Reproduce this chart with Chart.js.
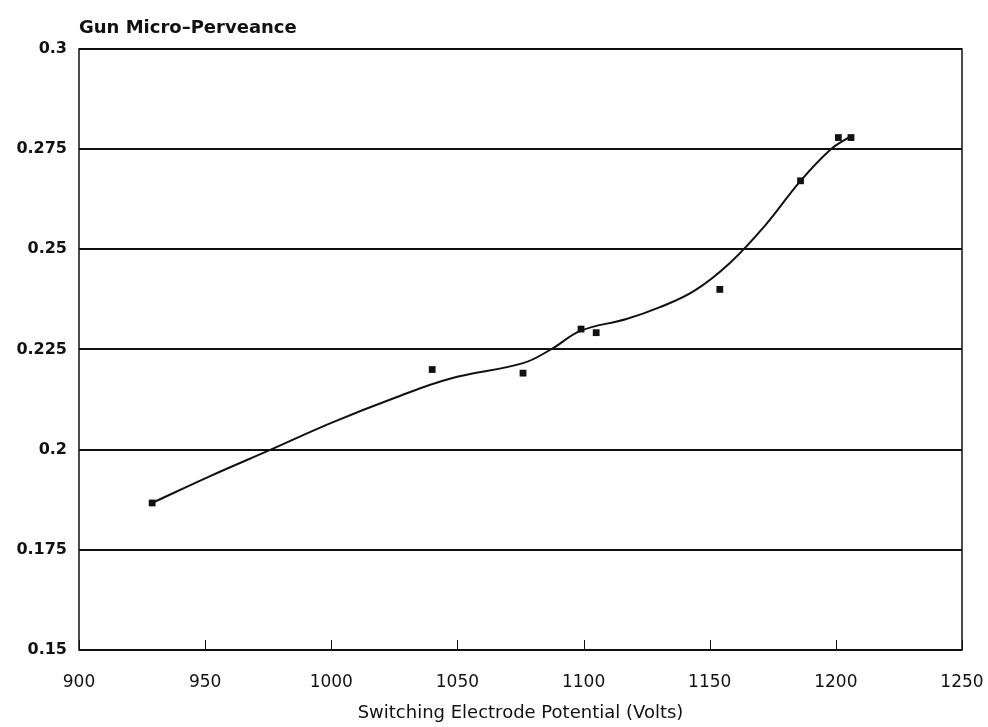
<!DOCTYPE html>
<html>
<head>
<meta charset="utf-8">
<script src="https://cdn.jsdelivr.net/npm/chart.js@4/dist/chart.umd.min.js"></script>
<style>
  html, body { margin: 0; padding: 0; background: #fff; }
  #wrap { width: 988px; height: 727px; }
</style>
</head>
<body>
<div id="wrap"><canvas id="perveanceChart" width="988" height="727"></canvas></div>
<script>
// measured points: electrode potential (V) vs micro-perveance
const voltage = [929, 1040, 1076, 1099, 1105, 1154, 1186, 1201, 1206];
const perveance = [0.1867, 0.2200, 0.2191, 0.2301, 0.2292, 0.2400, 0.2671, 0.2779, 0.2779];

// smoothed fit curve
const fitVoltage = [929, 952, 976, 1000, 1025, 1047, 1076, 1087, 1099, 1117, 1130, 1144, 1158, 1172, 1186, 1198, 1205];
const fitPerveance = [0.1867, 0.1934, 0.2000, 0.2067, 0.2129, 0.2177, 0.2216, 0.2250, 0.2297, 0.2326, 0.2355, 0.2397, 0.2466, 0.2560, 0.2671, 0.2750, 0.2779];

const xTicks = [900, 950, 1000, 1050, 1100, 1150, 1200, 1250];
const yTicks = [0.15, 0.175, 0.2, 0.225, 0.25, 0.275, 0.3];

const FONT = "'DejaVu Sans', sans-serif";

// frame, inner x ticks and the top-left caption
const framePlugin = {
  id: 'frame',
  afterDraw(chart) {
    const { ctx, chartArea: a, scales } = chart;
    ctx.save();
    ctx.strokeStyle = '#111';
    ctx.lineWidth = 1.5;
    ctx.strokeRect(a.left, a.top, a.right - a.left, a.bottom - a.top);
    ctx.lineWidth = 1;
    xTicks.forEach(v => {
      const px = Math.round(scales.x.getPixelForValue(v)) + 0.5;
      ctx.beginPath();
      ctx.moveTo(px, a.bottom);
      ctx.lineTo(px, a.bottom - 10);
      ctx.stroke();
    });
    ctx.fillStyle = '#111';
    ctx.font = 'bold 18px ' + FONT;
    ctx.textAlign = 'left';
    ctx.textBaseline = 'alphabetic';
    ctx.fillText('Gun Micro\u2013Perveance', a.left, a.top - 16);
    ctx.restore();
  }
};

new Chart(document.getElementById('perveanceChart').getContext('2d'), {
  type: 'scatter',
  data: {
    datasets: [
      {
        label: 'fit',
        type: 'line',
        data: fitVoltage.map((v, i) => ({ x: v, y: fitPerveance[i] })),
        borderColor: '#111',
        borderWidth: 2,
        pointRadius: 0,
        fill: false,
        tension: 0.4
      },
      {
        label: 'measured',
        data: voltage.map((v, i) => ({ x: v, y: perveance[i] })),
        pointStyle: 'rect',
        pointRadius: 4.8,
        backgroundColor: '#111',
        borderColor: '#111',
        borderWidth: 0
      }
    ]
  },
  options: {
    responsive: false,
    animation: false,
    layout: { padding: { top: 49, right: 26, left: 0, bottom: 0 } },
    plugins: {
      legend: { display: false },
      tooltip: { enabled: false }
    },
    scales: {
      x: {
        type: 'linear',
        min: 900,
        max: 1250,
        afterBuildTicks: s => { s.ticks = xTicks.map(v => ({ value: v })); },
        afterFit: s => { s.height = 77; s.paddingLeft = 0; s.paddingRight = 0; },
        grid: { display: false },
        border: { display: false },
        ticks: {
          padding: 14,
          color: '#111',
          font: { family: FONT, size: 17 },
          maxRotation: 0,
          callback: v => String(v)
        },
        title: {
          display: true,
          text: 'Switching Electrode Potential (Volts)',
          color: '#111',
          font: { family: FONT, size: 18 },
          padding: { top: 0, bottom: 3 }
        }
      },
      y: {
        type: 'linear',
        min: 0.15,
        max: 0.3,
        afterBuildTicks: s => { s.ticks = yTicks.map(v => ({ value: v })); },
        afterFit: s => { s.width = 79; },
        grid: {
          color: '#111',
          lineWidth: 2,
          drawTicks: false
        },
        border: { display: false },
        ticks: {
          padding: 12,
          color: '#111',
          font: { family: FONT, size: 16, weight: 'bold' },
          callback: v => String(+v.toFixed(3))
        }
      }
    }
  },
  plugins: [framePlugin]
});
</script>
</body>
</html>
